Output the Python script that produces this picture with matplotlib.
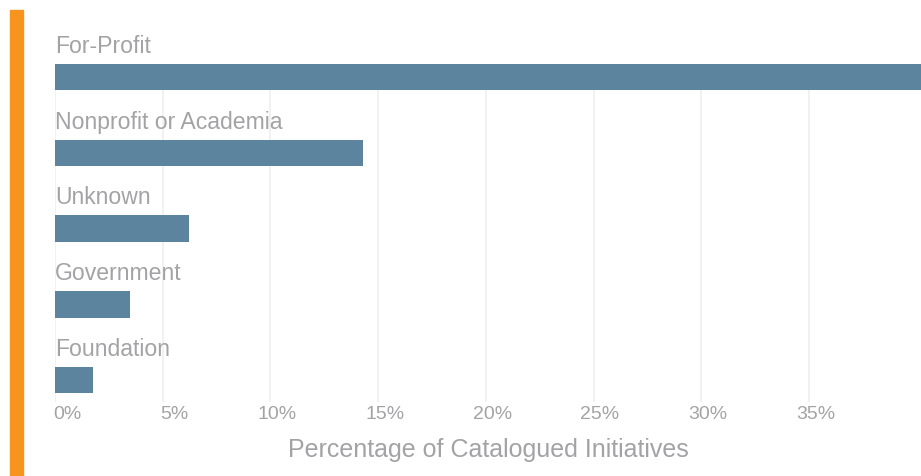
import matplotlib

matplotlib.use("Agg")
import matplotlib.pyplot as plt
import matplotlib.transforms as mtransforms
from matplotlib.patches import Rectangle

categories = ["For-Profit", "Nonprofit or Academia", "Unknown", "Government", "Foundation"]
shares = [41.0, 14.3, 6.2, 3.5, 1.75]
tick_values = [0, 5, 10, 15, 20, 25, 30, 35]
tick_labels = ["0%", "5%", "10%", "15%", "20%", "25%", "30%", "35%"]

BAR_COLOR = "#5d849f"
TEXT_GRAY = "#a3a3a6"
ORANGE = "#f7941e"

plt.rcParams["font.family"] = ["Liberation Sans", "DejaVu Sans"]

fig = plt.figure(figsize=(9.21, 4.77), dpi=100)
ax = fig.add_axes([55 / 921, 1 - 403 / 477, 1 - 55 / 921, (403 - 65) / 477])

# orange accent strip on the left edge
fig.patches.append(Rectangle((10 / 921, 0), 12.5 / 921, 1 - 11 / 477,
                             transform=fig.transFigure, color=ORANGE, zorder=5))

y = list(range(len(categories)))
ax.barh(y, shares, height=0.35, color=BAR_COLOR, zorder=3)
for yi, name in zip(y, categories):
    ax.text(0, yi - 0.335, name, ha="left", va="baseline", fontsize=16.6,
            color=TEXT_GRAY, clip_on=False, zorder=4)

ax.set_xlim(0, 40.2)
ax.set_ylim(4.29, -0.175)
ax.set_yticks([])
ax.set_xticks(tick_values)
ax.set_xticklabels([])
ax.tick_params(axis="x", length=0)

# tick labels sit slightly right of their gridlines
shift = mtransforms.ScaledTranslation(26 / 100, -3 / 100, fig.dpi_scale_trans)
trans = ax.get_xaxis_transform() + shift
for v, lab in zip(tick_values, tick_labels):
    ax.text(v, 0, lab, transform=trans, ha="right", va="top", fontsize=14,
            color=TEXT_GRAY, clip_on=False)

ax.grid(True, axis="x", color="#ededed", linewidth=1.1, zorder=0)
ax.set_axisbelow(True)
for s in ax.spines.values():
    s.set_visible(False)
ax.set_xlabel("Percentage of Catalogued Initiatives", fontsize=18, color=TEXT_GRAY, labelpad=22)

fig.savefig("out.png", dpi=100, facecolor="white")
